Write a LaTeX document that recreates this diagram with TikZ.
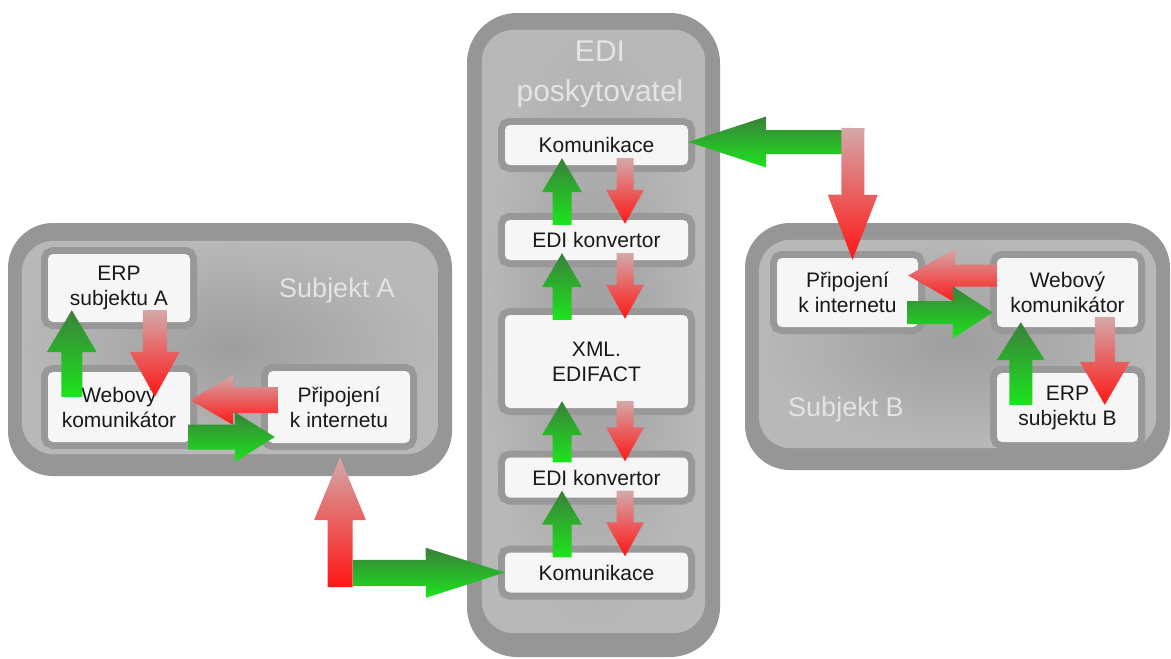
\documentclass[tikz,border=0pt]{standalone}
\usepackage{fontspec}
\setmainfont{Liberation Sans}
\usetikzlibrary{calc}
\definecolor{framegray}{RGB}{150,150,150}
\definecolor{panelmid}{RGB}{158,158,158}
\definecolor{panelrim}{RGB}{184,184,184}
\definecolor{halogray}{RGB}{152,152,152}
\definecolor{boxwhite}{RGB}{246,246,246}
\definecolor{textdark}{RGB}{25,25,25}
\definecolor{labelgray}{RGB}{228,228,228}
\definecolor{grntop}{RGB}{58,128,58}
\definecolor{grnbot}{RGB}{28,228,28}
\definecolor{redtop}{RGB}{212,168,168}
\definecolor{redbot}{RGB}{255,22,22}

% fat shaded arrow: style, from, to, shaft half width, head half width, head length
\newcommand{\fatarrow}[6]{%
  \shade[#1] let \p1=(#2), \p2=(#3),
    \n1={veclen(\x2-\x1,\y2-\y1)}, \n2={atan2(\y2-\y1,\x2-\x1)} in
    [shift={(\p1)}, rotate=\n2]
    (0pt,-#4pt) -- ({\n1-#6pt},-#4pt) -- ({\n1-#6pt},-#5pt) -- ({\n1+0pt},0pt)
    -- ({\n1-#6pt},#5pt) -- ({\n1-#6pt},#4pt) -- (0pt,#4pt) -- cycle;}

\begin{document}
\begin{tikzpicture}[x=1pt, y=-1pt,
    box/.style={rectangle, fill=boxwhite, rounded corners=5pt, text=textdark, align=center,
      font=\fontsize{21}{25}\selectfont, inner sep=0pt, preaction={draw=halogray, line width=14pt}},
    frame/.style={rectangle, fill=framegray, rounded corners=45pt, inner sep=0pt},
    panel/.style={inner color=panelmid, outer color=panelrim, rounded corners=32pt},
    label/.style={text=labelgray, align=center, font=\fontsize{27}{40}\selectfont},
    gfat/.style={top color=grntop, bottom color=grnbot},
    rfat/.style={top color=redtop, bottom color=redbot}]
    \useasboundingbox (0,0) rectangle (1171,659);

    % frames
    \node[frame, minimum width=444pt, minimum height=253pt] (subjA) at (230,349.5) {};
    \shade[panel] ([shift={(14,18)}]subjA.north west) rectangle ([shift={(-14,-22)}]subjA.south east);
    \node[frame, minimum width=253pt, minimum height=644pt, rounded corners=50pt] (edi) at (593.5,335) {};
    \shade[panel] ([shift={(15,17)}]edi.north west) rectangle ([shift={(-15,-24)}]edi.south east);
    \node[frame, minimum width=425pt, minimum height=247pt] (subjB) at (957.5,346.5) {};
    \shade[panel] ([shift={(14,17)}]subjB.north west) rectangle ([shift={(-14,-22)}]subjB.south east);

    \node[label] (labA) at (337,291) {Subjekt A};
    \node[label] (labB) at (846,410) {Subjekt B};
    \node[label, font=\fontsize{30}{40}\selectfont] (labEDI) at (600,74) {EDI\\poskytovatel};

    % Subjekt A
    \node[box, minimum width=142pt, minimum height=68pt] (erpA) at (119,288) {ERP\\subjektu A};
    \node[box, minimum width=142pt, minimum height=70pt] (webA) at (119,407) {Webový\\komunikátor};
    \node[box, minimum width=142pt, minimum height=72pt] (pripA) at (339,407) {Připojení\\k internetu};

    % EDI poskytovatel
    \node[box, minimum width=183pt, minimum height=40pt] (komTop) at (596.5,145) {Komunikace};
    \node[box, minimum width=183pt, minimum height=40pt] (konv1) at (596.5,240) {EDI konvertor};
    \node[box, minimum width=183pt, minimum height=93pt] (xml) at (596.5,361.5) {XML.\\EDIFACT};
    \node[box, minimum width=183pt, minimum height=40pt] (konv2) at (596.5,477.5) {EDI konvertor};
    \node[box, minimum width=183pt, minimum height=40pt] (komBot) at (596.5,572.5) {Komunikace};

    % Subjekt B
    \node[box, minimum width=141pt, minimum height=69pt] (pripB) at (847.5,292.5) {Připojení\\k internetu};
    \node[box, minimum width=141pt, minimum height=69pt] (webB) at (1067.5,292.5) {Webový\\komunikátor};
    \node[box, minimum width=141pt, minimum height=69pt] (erpB) at (1067.5,407.5) {ERP\\subjektu B};

    % arrows in Subjekt A
    \fatarrow{gfat}{$(webA.north west)+(24,25)$}{$(erpA.south west)+(24,-12)$}{10.5}{25}{42}
    \fatarrow{rfat}{$(erpA.south west)+(107,-12)$}{$(webA.north west)+(107,25)$}{12}{25}{45}
    \fatarrow{rfat}{$(pripA.west)+(10,-7)$}{$(webA.east)+(0,-7)$}{13}{25}{43}
    \fatarrow{gfat}{$(webA.east)+(-2,30)$}{$(pripA.west)+(7,30)$}{12.5}{25}{40}

    % A <-> EDI
    \coordinate (cornerA) at (340,587);
    \fatarrow{gfat}{$(cornerA)+(13,-14)$}{komBot.west}{13}{25}{79}
    \fatarrow{rfat}{cornerA}{$(pripA.south)+(1,14)$}{12.5}{26}{63}

    % inside EDI
    \foreach \lo/\hi in {komTop/konv1, konv1/xml, xml/konv2, konv2/komBot} {
      \fatarrow{gfat}{$(\hi.north)+(-34.5,5)$}{$(\lo.south)+(-34.5,-7)$}{9.5}{20}{34}
      \fatarrow{rfat}{$(\lo.south)+(28.5,-7)$}{$(\hi.north)+(28.5,4)$}{8.5}{19}{34}
    }

    % EDI <-> B
    \coordinate (cornerB) at (853,128);
    \fatarrow{gfat}{$(cornerB)+(-11,14)$}{$(komTop.east)+(0,-3)$}{12}{25.5}{78}
    \fatarrow{rfat}{cornerB}{$(pripB.north)+(5,2)$}{11.5}{25}{65}

    % arrows in Subjekt B
    \fatarrow{rfat}{$(webB.west)+(0,-17)$}{$(pripB.east)+(-10,-17)$}{11}{27}{47}
    \fatarrow{gfat}{$(pripB.east)+(-11,20)$}{$(webB.west)+(-4,20)$}{11.5}{26}{40}
    \fatarrow{gfat}{$(erpB.north west)+(24,32)$}{$(webB.south west)+(24,-5)$}{11.5}{24}{38}
    \fatarrow{rfat}{$(webB.south west)+(108,-10)$}{$(erpB.north west)+(108,32)$}{10}{25}{43}
\end{tikzpicture}
\end{document}
